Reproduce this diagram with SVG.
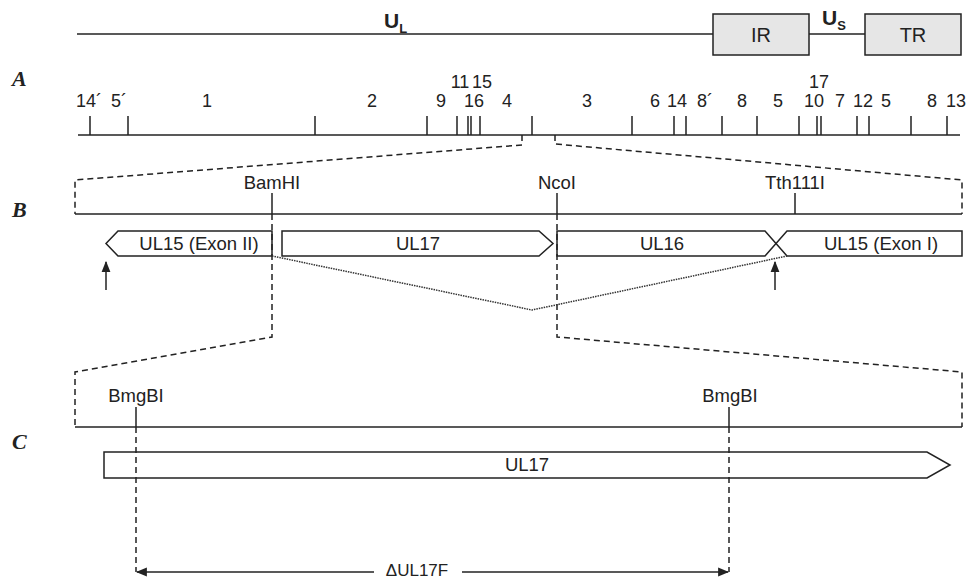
<svg xmlns="http://www.w3.org/2000/svg" width="971" height="580" viewBox="0 0 971 580">
<style>
  .ln{stroke:#222;stroke-width:1.5;fill:none}
  .dash{stroke:#222;stroke-width:1.5;fill:none;stroke-dasharray:6,4}
  .dot{stroke:#333;stroke-width:1.5;fill:none;stroke-dasharray:1.5,1}
  .box{stroke:#222;stroke-width:1.5;fill:#fff}
  .gbox{stroke:#222;stroke-width:1.5;fill:#e6e6e6}
  text{font-family:"Liberation Sans",Arial,sans-serif;font-size:18.5px;fill:#222}
  .num{font-size:18px}
  .lbl{font-family:"Liberation Serif","Times New Roman",serif;font-weight:bold;font-style:italic;font-size:22px}
  .u{font-weight:bold;font-size:21px}
  .sub{font-weight:bold;font-size:13px}
  .big{font-size:20px}
  .mid{text-anchor:middle}
</style>
<defs>
  <marker id="ah" viewBox="0 0 10 10" refX="9" refY="5" markerWidth="11" markerHeight="11" markerUnits="userSpaceOnUse" orient="auto-start-reverse">
    <path d="M0,1 L10,5 L0,9 Z" fill="#222"/>
  </marker>
</defs>

<!-- genome map -->
<g id="genome">
  <line class="ln" x1="77" y1="34" x2="713" y2="34"/>
  <line class="ln" x1="809" y1="34" x2="865" y2="34"/>
  <text class="u" x="384" y="28">U<tspan class="sub" dy="5">L</tspan></text>
  <text class="u" x="822" y="25">U<tspan class="sub" dy="5">S</tspan></text>
</g>
<g id="IR">
  <rect class="gbox" x="713" y="14" width="96" height="41"/>
  <text class="mid big" x="761" y="42">IR</text>
</g>
<g id="TR">
  <rect class="gbox" x="865" y="14" width="96" height="41"/>
  <text class="mid big" x="913" y="42">TR</text>
</g>

<!-- row labels -->
<text class="lbl" x="12" y="86">A</text>
<text class="lbl" x="12" y="217">B</text>
<text class="lbl" x="12" y="449">C</text>

<!-- A: restriction map -->
<g id="mapA">
  <line class="ln" x1="78" y1="135" x2="960" y2="135"/>
  <path class="ln" d="M90,116V135 M128,116V135 M315,116V135 M427,116V135 M457,116V135 M468,116V135 M471,116V135 M480,116V135 M532,116V135 M632,116V135 M674,116V135 M686,116V135 M722,116V135 M757,116V135 M799,116V135 M817,116V135 M821,116V135 M857,116V135 M869,116V135 M911,116V135 M947,116V135"/>
  <g class="mid num">
    <text class="num" x="89" y="107">14´</text>
    <text class="num" x="119" y="107">5´</text>
    <text class="num" x="207" y="107">1</text>
    <text class="num" x="372" y="107">2</text>
    <text class="num" x="441" y="107">9</text>
    <text class="num" x="460" y="88">11</text>
    <text class="num" x="482" y="88">15</text>
    <text class="num" x="474" y="107">16</text>
    <text class="num" x="507" y="107">4</text>
    <text class="num" x="587" y="107">3</text>
    <text class="num" x="655" y="107">6</text>
    <text class="num" x="677" y="107">14</text>
    <text class="num" x="705" y="107">8´</text>
    <text class="num" x="742" y="107">8</text>
    <text class="num" x="778" y="107">5</text>
    <text class="num" x="814" y="107">10</text>
    <text class="num" x="819" y="88">17</text>
    <text class="num" x="840" y="107">7</text>
    <text class="num" x="863" y="107">12</text>
    <text class="num" x="886" y="107">5</text>
    <text class="num" x="932" y="107">8</text>
    <text class="num" x="956" y="107">13</text>
  </g>
</g>

<!-- B: expanded fragment -->
<g id="mapB">
  <line class="ln" x1="75" y1="214" x2="962" y2="214"/>
  <line class="ln" x1="272" y1="193" x2="272" y2="214"/>
  <line class="ln" x1="557" y1="193" x2="557" y2="214"/>
  <line class="ln" x1="795" y1="193" x2="795" y2="214"/>
  <text class="mid" x="272" y="189">BamHI</text>
  <text class="mid" x="557" y="189">NcoI</text>
  <text class="mid" x="795" y="189">Tth111I</text>
</g>
<g id="UL15exII">
  <polygon class="box" points="106,243.5 118,231 272,231 272,256 118,256"/>
  <text class="mid" x="199" y="250">UL15 (Exon II)</text>
</g>
<g id="UL17B">
  <polygon class="box" points="282,231 539,231 553,243.5 539,256 282,256"/>
  <text class="mid" x="418" y="250">UL17</text>
</g>
<g id="UL16">
  <polygon class="box" points="557,231 765,231 776,243.5 765,256 557,256"/>
  <text class="mid" x="662" y="250">UL16</text>
</g>
<g id="UL15exI">
  <polygon class="box" points="787,231 962,231 962,256 787,256 776,243.5"/>
  <text class="mid" x="881" y="250">UL15 (Exon I)</text>
</g>

<!-- C: expanded fragment -->
<g id="mapC">
  <line class="ln" x1="75" y1="427" x2="962" y2="427"/>
  <line class="ln" x1="136" y1="407" x2="136" y2="427"/>
  <line class="ln" x1="729" y1="407" x2="729" y2="427"/>
  <text class="mid" x="136" y="402">BmgBI</text>
  <text class="mid" x="730" y="402">BmgBI</text>
</g>
<g id="UL17C">
  <polygon class="box" points="104,452 927,452 950,465 927,478 104,478"/>
  <text class="mid" x="527" y="471">UL17</text>
</g>

<!-- connectors -->
<g id="connectors">
  <path class="dash" d="M522,135V145L75,180V214"/>
  <path class="dash" d="M555,135V144L962,180V214"/>
  <path class="dash" d="M272,214V337L75,372V427"/>
  <path class="dash" d="M557,214V337L962,372V427"/>
  <path class="dot" d="M272,256L532,310L787,256"/>
  <path class="dash" d="M136,427V572"/>
  <path class="dash" d="M729,427V572"/>
  <line class="ln" x1="106" y1="290" x2="106" y2="262" marker-end="url(#ah)"/>
  <line class="ln" x1="775" y1="290" x2="775" y2="262" marker-end="url(#ah)"/>
  <line class="ln" x1="374" y1="572" x2="137" y2="572" marker-end="url(#ah)"/>
  <line class="ln" x1="462" y1="572" x2="728" y2="572" marker-end="url(#ah)"/>
  <text class="mid" x="417" y="576" style="font-size:17px">ΔUL17F</text>
</g>
</svg>
